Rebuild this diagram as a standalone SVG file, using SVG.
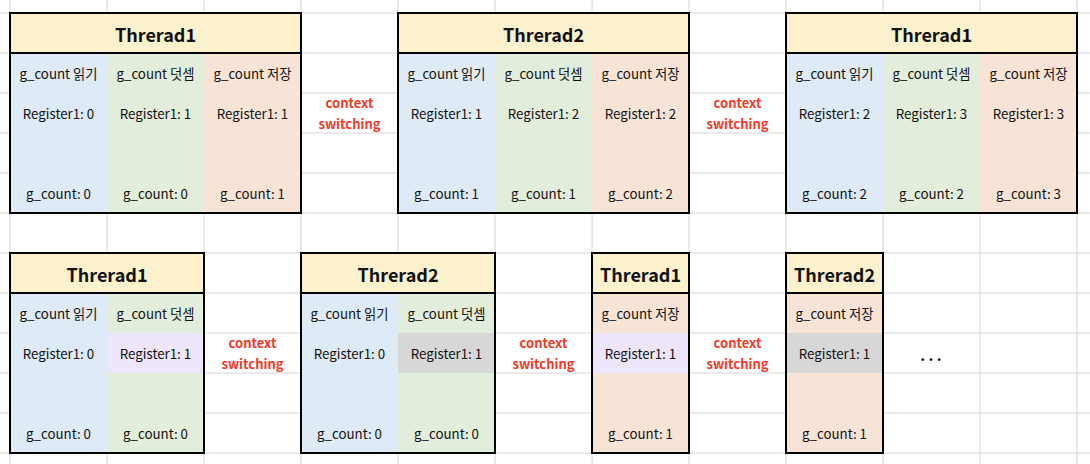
<svg xmlns="http://www.w3.org/2000/svg" width="1090" height="464" viewBox="0 0 1090 464">
<style>
.grid line{stroke:#d4d4d4;stroke-width:1}
.frame{fill:none;stroke:#000;stroke-width:2}
.hd{fill:#fcf1cd}
.b{fill:#deeaf6}
.g{fill:#e3eddb}
.o{fill:#f8e4d6}
.l{fill:#ede6fa}
.y{fill:#d7d7d7}
text{font-family:"Noto Sans CJK KR","Noto Sans",sans-serif;font-size:13.3px;fill:#111;text-anchor:middle;dominant-baseline:central}
.ht{font-size:18px;font-weight:bold}
.cs{fill:#ee3b2b;font-weight:bold;font-size:13px}
</style>
<g class="grid">
<line x1="10" y1="0" x2="10" y2="464"/><line x1="107" y1="0" x2="107" y2="464"/><line x1="204" y1="0" x2="204" y2="464"/><line x1="301" y1="0" x2="301" y2="464"/><line x1="398" y1="0" x2="398" y2="464"/><line x1="495" y1="0" x2="495" y2="464"/><line x1="592" y1="0" x2="592" y2="464"/><line x1="689" y1="0" x2="689" y2="464"/><line x1="786" y1="0" x2="786" y2="464"/><line x1="883" y1="0" x2="883" y2="464"/><line x1="980" y1="0" x2="980" y2="464"/><line x1="1077" y1="0" x2="1077" y2="464"/>
<line x1="0" y1="13" x2="1090" y2="13"/><line x1="0" y1="53" x2="1090" y2="53"/><line x1="0" y1="93" x2="1090" y2="93"/><line x1="0" y1="133" x2="1090" y2="133"/><line x1="0" y1="173" x2="1090" y2="173"/><line x1="0" y1="213" x2="1090" y2="213"/><line x1="0" y1="253" x2="1090" y2="253"/><line x1="0" y1="293" x2="1090" y2="293"/><line x1="0" y1="333" x2="1090" y2="333"/><line x1="0" y1="373" x2="1090" y2="373"/><line x1="0" y1="413" x2="1090" y2="413"/><line x1="0" y1="453" x2="1090" y2="453"/>
</g>

<g id="t1a">
<rect class="hd" x="10" y="13" width="291" height="40"/>
<rect class="b" x="10" y="53" width="97" height="160"/>
<rect class="g" x="107" y="53" width="97" height="160"/>
<rect class="o" x="204" y="53" width="97" height="160"/>
<rect class="frame" x="10" y="13" width="291" height="200"/>
<line x1="10" y1="53" x2="301" y2="53" stroke="#000" stroke-width="2"/>
<text class="ht" x="155.5" y="34">Threrad1</text>
<text x="58.5" y="73">g_count 읽기</text><text x="58.5" y="113">Register1: 0</text><text x="58.5" y="193">g_count: 0</text>
<text x="155.5" y="73">g_count 덧셈</text><text x="155.5" y="113">Register1: 1</text><text x="155.5" y="193">g_count: 0</text>
<text x="252.5" y="73">g_count 저장</text><text x="252.5" y="113">Register1: 1</text><text x="252.5" y="193">g_count: 1</text>
</g>

<g id="t2a">
<rect class="hd" x="398" y="13" width="291" height="40"/>
<rect class="b" x="398" y="53" width="97" height="160"/>
<rect class="g" x="495" y="53" width="97" height="160"/>
<rect class="o" x="592" y="53" width="97" height="160"/>
<rect class="frame" x="398" y="13" width="291" height="200"/>
<line x1="398" y1="53" x2="689" y2="53" stroke="#000" stroke-width="2"/>
<text class="ht" x="543.5" y="34">Threrad2</text>
<text x="446.5" y="73">g_count 읽기</text><text x="446.5" y="113">Register1: 1</text><text x="446.5" y="193">g_count: 1</text>
<text x="543.5" y="73">g_count 덧셈</text><text x="543.5" y="113">Register1: 2</text><text x="543.5" y="193">g_count: 1</text>
<text x="640.5" y="73">g_count 저장</text><text x="640.5" y="113">Register1: 2</text><text x="640.5" y="193">g_count: 2</text>
</g>

<g id="t1b">
<rect class="hd" x="786" y="13" width="291" height="40"/>
<rect class="b" x="786" y="53" width="97" height="160"/>
<rect class="g" x="883" y="53" width="97" height="160"/>
<rect class="o" x="980" y="53" width="97" height="160"/>
<rect class="frame" x="786" y="13" width="291" height="200"/>
<line x1="786" y1="53" x2="1077" y2="53" stroke="#000" stroke-width="2"/>
<text class="ht" x="931.5" y="34">Threrad1</text>
<text x="834.5" y="73">g_count 읽기</text><text x="834.5" y="113">Register1: 2</text><text x="834.5" y="193">g_count: 2</text>
<text x="931.5" y="73">g_count 덧셈</text><text x="931.5" y="113">Register1: 3</text><text x="931.5" y="193">g_count: 2</text>
<text x="1028.5" y="73">g_count 저장</text><text x="1028.5" y="113">Register1: 3</text><text x="1028.5" y="193">g_count: 3</text>
</g>

<g id="t1c">
<rect class="hd" x="10" y="253" width="194" height="40"/>
<rect class="b" x="10" y="293" width="97" height="160"/>
<rect class="g" x="107" y="293" width="97" height="160"/>
<rect class="l" x="107" y="333" width="97" height="40"/>
<rect class="frame" x="10" y="253" width="194" height="200"/>
<line x1="10" y1="293" x2="204" y2="293" stroke="#000" stroke-width="2"/>
<text class="ht" x="107" y="274">Threrad1</text>
<text x="58.5" y="313">g_count 읽기</text><text x="58.5" y="353">Register1: 0</text><text x="58.5" y="433">g_count: 0</text>
<text x="155.5" y="313">g_count 덧셈</text><text x="155.5" y="353">Register1: 1</text><text x="155.5" y="433">g_count: 0</text>
</g>

<g id="t2c">
<rect class="hd" x="301" y="253" width="194" height="40"/>
<rect class="b" x="301" y="293" width="97" height="160"/>
<rect class="g" x="398" y="293" width="97" height="160"/>
<rect class="y" x="398" y="333" width="97" height="40"/>
<rect class="frame" x="301" y="253" width="194" height="200"/>
<line x1="301" y1="293" x2="495" y2="293" stroke="#000" stroke-width="2"/>
<text class="ht" x="398" y="274">Threrad2</text>
<text x="349.5" y="313">g_count 읽기</text><text x="349.5" y="353">Register1: 0</text><text x="349.5" y="433">g_count: 0</text>
<text x="446.5" y="313">g_count 덧셈</text><text x="446.5" y="353">Register1: 1</text><text x="446.5" y="433">g_count: 0</text>
</g>

<g id="t1d">
<rect class="hd" x="592" y="253" width="97" height="40"/>
<rect class="o" x="592" y="293" width="97" height="160"/>
<rect class="l" x="592" y="333" width="97" height="40"/>
<rect class="frame" x="592" y="253" width="97" height="200"/>
<line x1="592" y1="293" x2="689" y2="293" stroke="#000" stroke-width="2"/>
<text class="ht" x="640.5" y="274">Threrad1</text>
<text x="640.5" y="313">g_count 저장</text><text x="640.5" y="353">Register1: 1</text><text x="640.5" y="433">g_count: 1</text>
</g>

<g id="t2d">
<rect class="hd" x="786" y="253" width="97" height="40"/>
<rect class="o" x="786" y="293" width="97" height="160"/>
<rect class="y" x="786" y="333" width="97" height="40"/>
<rect class="frame" x="786" y="253" width="97" height="200"/>
<line x1="786" y1="293" x2="883" y2="293" stroke="#000" stroke-width="2"/>
<text class="ht" x="834.5" y="274">Threrad2</text>
<text x="834.5" y="313">g_count 저장</text><text x="834.5" y="353">Register1: 1</text><text x="834.5" y="433">g_count: 1</text>
</g>

<g id="labels">
<text class="cs" x="349.5" y="102">context</text><text class="cs" x="349.5" y="123">switching</text>
<text class="cs" x="737.5" y="102">context</text><text class="cs" x="737.5" y="123">switching</text>
<text class="cs" x="252.5" y="342">context</text><text class="cs" x="252.5" y="363">switching</text>
<text class="cs" x="543.5" y="342">context</text><text class="cs" x="543.5" y="363">switching</text>
<text class="cs" x="737.5" y="342">context</text><text class="cs" x="737.5" y="363">switching</text>
<text x="931" y="354" style="font-size:15px;font-weight:bold">. . .</text>
</g>
</svg>
